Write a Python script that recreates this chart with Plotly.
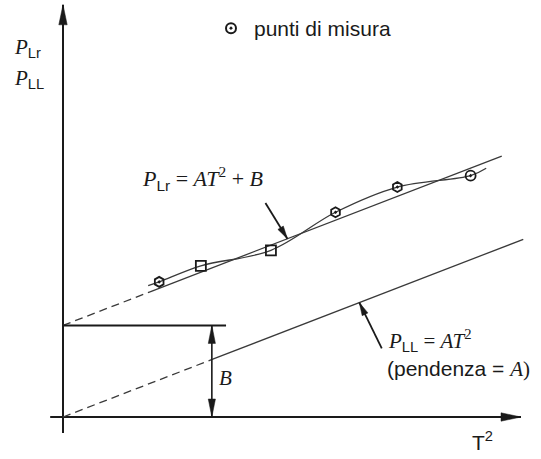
import numpy as np
import plotly.graph_objects as go

# ---- measured points (T^2, P_Lr) ----
t2_meas = [2.10, 3.01, 4.54, 5.95, 7.30, 8.90]
p_meas = [2.95, 3.30, 3.64, 4.47, 5.02, 5.27]
meas_symbols = ["hexagon-open-dot", "square-open", "square-open",
                "hexagon-open-dot", "hexagon-open-dot", "circle-open-dot"]

# smooth curve through the measured points, with a short lead-in / lead-out
t2_curve = [1.86] + t2_meas + [9.24]
p_curve = [2.87] + p_meas + [5.43]

# straight-line model  P_Lr = A*T^2 + B,  P_LL = A*T^2
A = 0.386
B = 2.0

# extents of the two straight lines (dashed extrapolation, then solid)
lr_dash_t2 = [0.0, 1.90]
lr_solid_t2 = [1.90, 9.58]
ll_dash_t2 = [0.0, 3.27]
ll_solid_t2 = [3.27, 10.05]

# axis extents and the B marker position
x_axis_span = [-0.28, 10.0]
y_axis_span = [-0.35, 9.0]
b_bar_end = 3.56
b_arrow_t2 = 3.25

# pointer arrows: T^2 where they touch their line, and the tail offset
lr_ptr_t2, lr_ptr_tail = 4.90, (-0.48, 0.78)
ll_ptr_t2, ll_ptr_tail = 6.47, (0.49, -1.00)

S = 45.8  # pixels per unit (same on both axes)
W, H = 541, 459
X0, Y0 = 63, 417  # origin position in the page

INK = "#1a1a1a"
LINE = "#3a3a3a"
SERIF = "Liberation Serif"
SANS = "Liberation Sans"

fig = go.Figure()


def seg(xs, ys, dash="solid", width=1.3, color=LINE):
    fig.add_trace(go.Scatter(x=xs, y=ys, mode="lines", hoverinfo="skip",
                             showlegend=False,
                             line=dict(color=color, width=width, dash=dash)))


def head(tip, tail, length_px, half_px, color=INK):
    tip = np.array(tip, float)
    d = tip - np.array(tail, float)
    d /= np.linalg.norm(d)
    n = np.array([-d[1], d[0]])
    base = tip - d * length_px / S
    p1 = base + n * half_px / S
    p2 = base - n * half_px / S
    path = "M{},{} L{},{} L{},{} Z".format(tip[0], tip[1], p1[0], p1[1], p2[0], p2[1])
    fig.add_shape(type="path", path=path, xref="x", yref="y",
                  fillcolor=color, line=dict(color=color, width=0.5))


# axes
seg(x_axis_span, [0, 0], width=2, color=INK)
seg([0, 0], y_axis_span, width=2, color=INK)
head((x_axis_span[1], 0), (0, 0), 20, 4.2)
head((0, y_axis_span[1]), (0, 0), 20, 4.2)

# P_Lr = A T^2 + B
lr = lambda t: [A * v + B for v in t]
seg(lr_dash_t2, lr(lr_dash_t2), dash="8px,5px")
seg(lr_solid_t2, lr(lr_solid_t2))

# P_LL = A T^2
ll = lambda t: [A * v for v in t]
seg(ll_dash_t2, ll(ll_dash_t2), dash="8px,5px")
seg(ll_solid_t2, ll(ll_solid_t2))

# intercept B
seg([0, b_bar_end], [B, B], width=2, color=INK)
seg([b_arrow_t2, b_arrow_t2], [0, B], width=1.6, color=INK)
head((b_arrow_t2, B), (b_arrow_t2, 0), 18, 3.6)
head((b_arrow_t2, 0), (b_arrow_t2, B), 18, 3.6)

# smooth curve through the measurements
fig.add_trace(go.Scatter(x=t2_curve, y=p_curve, mode="lines", hoverinfo="skip",
                         showlegend=False,
                         line=dict(color=LINE, width=1.3, shape="spline", smoothing=1.0)))

# measured points
fig.add_trace(go.Scatter(x=t2_meas, y=p_meas, mode="markers", showlegend=False,
                         marker=dict(symbol=meas_symbols, size=10, color=INK,
                                     line=dict(color=INK, width=1.8))))
fig.add_trace(go.Scatter(x=[None], y=[None], mode="markers", name="punti di misura",
                         marker=dict(symbol="circle-open-dot", size=10, color=INK,
                                     line=dict(color=INK, width=2))))

# pointer arrows to the two lines
for t_tip, (dx, dy), fn in ((lr_ptr_t2, lr_ptr_tail, lr), (ll_ptr_t2, ll_ptr_tail, ll)):
    tip = (t_tip, fn([t_tip])[0])
    tail = (t_tip + dx, tip[1] + dy)
    seg([tail[0], tip[0]], [tail[1], tip[1]], width=1.8, color=INK)
    head(tip, tail, 13, 3.2)

ann = []


def label(x, y, text, xanchor="left", yanchor="middle", size=21, family=SERIF):
    ann.append(dict(x=x, y=y, xref="x", yref="y", text=text, showarrow=False,
                    xanchor=xanchor, yanchor=yanchor,
                    font=dict(family=family, size=size, color=INK)))


sub = lambda s: "<sub><span style='font-family:{}'>{}</span></sub>".format(SANS, s)

label(1.68, 5.20, "<i>P</i>" + sub("Lr") + " = <i>AT</i><sup>2</sup> + <i>B</i>", size=22)
label(7.05, 1.66, "<i>P</i>" + sub("LL") + " = <i>AT</i><sup>2</sup>")
label(7.02, 1.05, "<span style='font-family:{}'>(pendenza = </span><i>A</i>)".format(SANS),
      size=21)
label(b_arrow_t2 + 0.12, 0.85, "<i>B</i>")
label(-1.12, 8.06, "<i>P</i>" + sub("Lr"))
label(-1.12, 7.37, "<i>P</i>" + sub("LL"))
label(9.17, -0.52, "T<sup>2</sup>", xanchor="center", family=SANS)

fig.update_layout(
    width=W, height=H,
    margin=dict(l=0, r=0, t=0, b=0, pad=0),
    paper_bgcolor="white", plot_bgcolor="white",
    xaxis=dict(range=[-X0 / S, (W - X0) / S], visible=False, fixedrange=True),
    yaxis=dict(range=[-(H - Y0) / S, Y0 / S], visible=False, fixedrange=True),
    annotations=ann,
    showlegend=True,
    legend=dict(x=208 / W, y=1 - 8 / H, xanchor="left", yanchor="top",
                bgcolor="rgba(0,0,0,0)", itemwidth=36,
                font=dict(family=SANS, size=21, color=INK)),
)

fig.write_html("out.html")
